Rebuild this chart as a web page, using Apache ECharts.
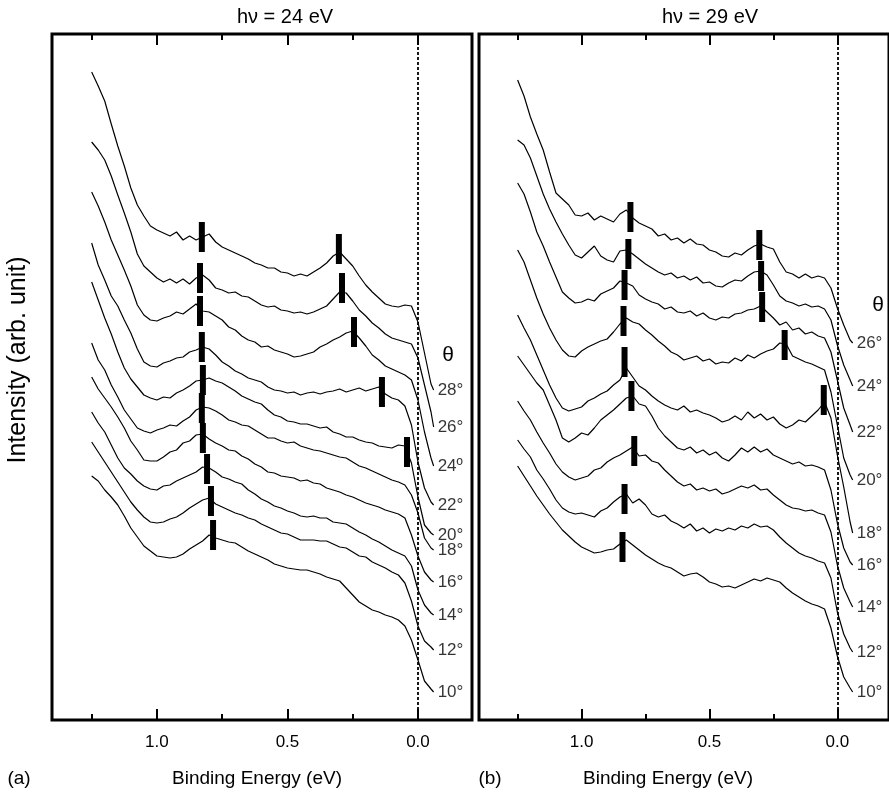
<!DOCTYPE html>
<html><head><meta charset="utf-8">
<script src="https://cdn.jsdelivr.net/npm/echarts@6/dist/echarts.min.js"></script>
<style>html,body{margin:0;padding:0;background:#fff}#c{width:889px;height:796px}</style>
</head><body><div id="c"></div>
<script>
// Binding energy sampling (eV)
const energies = [1.25,1.225,1.2,1.175,1.15,1.125,1.1,1.075,1.05,1.025,1.0,0.975,0.95,0.925,0.9,0.875,0.85,0.825,0.8,0.775,0.75,0.725,0.7,0.675,0.65,0.625,0.6,0.575,0.55,0.525,0.5,0.475,0.45,0.425,0.4,0.375,0.35,0.325,0.3,0.275,0.25,0.225,0.2,0.175,0.15,0.125,0.1,0.075,0.05,0.025,0,-0.025,-0.05,-0.06];
const tickValues = [0, 0.5, 1.0];
const minorTickValues = [0.25, 0.75, 1.25];
const anglesA = ['28°','26°','24º','22°','20°','18°','16°','14°','12°','10°'];
const anglesB = ['26°','24°','22°','20°','18°','16°','14°','12°','10°'];

// Panel (a) hv = 24 eV, intensity (arb. unit, offset stacked)
const a28 = [648,634,619,596,574,554,532,515,504,494,490,487,484,488,480,484,480,483,486,478,473,470,467,464,461,457,455,452,452,448,447,444,446,444,448,452,457,464,468,461,454,444,435,428,422,416,414,413,415,414,398,367,336,330];
const a26 = [578,570,560,544,525,507,488,466,454,448,442,438,441,437,441,436,442,445,440,432,430,427,428,424,423,419,415,413,414,410,409,407,408,406,408,411,414,421,428,427,419,410,404,397,392,386,382,380,378,376,362,335,308,293];
const a24 = [528,514,498,480,465,450,434,415,405,400,399,402,404,408,406,411,416,409,408,404,400,393,390,384,380,378,373,374,370,368,366,363,364,366,368,373,376,380,383,387,389,382,374,365,360,354,351,348,345,340,320,288,262,254];
const a22 = [477,455,440,424,414,400,387,371,358,354,353,357,359,362,363,368,370,373,371,365,358,354,349,346,342,340,338,333,330,329,327,328,325,327,328,326,328,329,331,328,330,332,329,331,333,326,322,320,314,295,258,232,218,215];
const a20 = [438,420,402,386,368,352,341,333,325,322,320,323,322,327,330,334,339,340,342,339,337,333,329,324,321,318,316,310,305,303,299,298,296,296,294,292,293,288,286,283,283,280,278,277,274,273,272,275,274,257,223,195,187,185];
const a18 = [377,360,350,335,323,310,301,292,289,287,290,292,295,294,299,303,310,313,312,309,305,300,298,295,294,290,286,282,282,279,277,278,274,272,270,269,267,265,263,262,258,254,252,249,246,243,240,238,235,225,207,182,172,170];
const a16 = [343,331,322,313,303,292,279,270,260,259,259,263,268,270,277,279,285,286,281,277,274,270,269,264,261,256,253,248,247,244,243,242,239,240,237,236,232,230,228,225,223,220,217,215,213,210,208,206,202,185,164,148,140,138];
const a14 = [308,297,288,275,262,252,246,239,234,231,230,234,235,239,242,245,248,253,252,248,243,241,238,236,230,226,221,218,214,212,209,207,204,203,204,202,202,198,197,196,192,188,185,181,178,174,170,167,164,154,130,115,107,105];
const a12 = [278,268,258,248,238,228,218,210,203,198,197,198,201,203,207,212,216,220,222,216,213,210,207,205,202,200,196,193,190,187,186,183,180,180,180,179,179,176,173,172,168,164,163,158,155,152,148,145,137,119,94,79,73,70];
const a10 = [244,239,230,223,215,204,192,183,174,169,164,163,162,163,166,171,175,179,185,182,180,178,177,173,169,166,163,160,156,154,152,151,150,150,148,146,143,141,139,132,125,118,114,110,108,105,103,100,94,80,60,39,31,28];

// Panel (b) hv = 29 eV
const b26 = [640,624,603,586,570,548,527,521,515,505,504,507,500,504,501,498,506,510,502,497,494,491,484,486,480,482,477,481,476,475,470,468,464,463,467,465,470,474,476,473,471,458,448,446,442,446,442,444,442,432,412,395,380,377];
const b24 = [580,575,562,544,526,511,498,486,475,465,462,468,474,464,460,458,469,470,466,461,456,452,448,445,447,442,444,440,443,437,438,434,433,437,440,439,444,448,449,445,435,424,419,417,414,416,413,414,411,400,375,355,340,334];
const b22 = [537,526,508,488,474,458,443,428,422,417,418,421,419,426,429,432,439,437,434,425,421,418,416,411,413,408,407,409,404,407,402,400,403,402,406,407,410,411,414,408,402,395,398,390,392,386,388,384,382,368,340,312,295,288];
const b20 = [470,458,440,422,406,392,380,370,364,363,369,373,376,379,381,388,396,402,398,396,390,385,379,374,368,365,360,362,364,359,361,356,358,357,362,359,365,362,366,369,371,377,376,364,361,358,356,353,350,328,295,262,245,240];
const b18 = [405,392,380,365,350,335,322,312,309,311,313,319,322,326,329,335,340,352,343,334,330,324,319,315,312,310,314,308,310,307,305,302,298,300,304,300,308,302,306,300,303,296,292,295,300,298,304,310,318,302,265,233,198,187];
const b16 = [364,355,346,337,330,315,300,282,278,282,287,285,292,300,305,310,316,322,324,316,314,304,292,284,278,272,270,273,267,270,265,268,262,259,265,272,268,273,268,271,265,262,259,256,258,254,255,253,250,230,197,172,158,155];
const b14 = [319,309,300,288,277,267,256,248,243,240,242,244,250,252,258,262,265,269,273,264,265,259,257,250,244,238,234,236,230,232,229,231,226,228,231,234,232,235,230,231,225,220,215,212,211,209,210,207,205,188,155,132,118,113];
const b12 = [280,271,263,250,241,231,220,212,208,206,207,205,203,209,212,218,223,226,217,221,215,206,203,205,199,196,192,196,189,192,187,191,189,192,190,194,192,196,193,194,190,183,177,172,167,164,162,159,157,142,108,86,72,68];
const b10 = [254,244,234,224,215,206,198,190,184,178,173,170,167,168,170,171,176,180,175,170,165,161,157,154,152,148,144,146,147,143,138,136,133,134,132,135,138,141,139,142,140,138,132,127,123,119,116,114,111,92,64,43,32,28];

// Peak markers [binding energy, intensity]
const markersA = [[0.828,483],[0.835,442],[0.835,409],[0.828,373],[0.824,340],[0.828,312],[0.824,282],[0.808,251],[0.793,219],[0.785,185],[0.303,471],[0.291,432],[0.245,388],[0.138,328],[0.042,268]];
const markersB = [[0.809,503],[0.817,466],[0.832,435],[0.836,399],[0.832,358],[0.805,324],[0.794,269],[0.832,221],[0.840,173],[0.305,475],[0.298,444],[0.294,413],[0.206,375],[0.053,320]];

const curvesA = [a28,a26,a24,a22,a20,a18,a16,a14,a12,a10];
const curvesB = [b26,b24,b22,b20,b18,b16,b14,b12,b10];

const FONT = '"Liberation Sans", Arial, Helvetica, sans-serif';

function makeXAxes(gridIndex, min, max) {
  const base = {type:'value', gridIndex, min, max, inverse:true, axisLine:{show:false}, splitLine:{show:false}};
  const major = {show:true, inside:true, length:11, lineStyle:{color:'#000', width:2}, customValues:tickValues};
  const minor = {show:true, inside:true, length:6, lineStyle:{color:'#000', width:2}, customValues:minorTickValues};
  return [
    Object.assign({}, base, {position:'bottom', axisTick:major,
      axisLabel:{show:true, customValues:tickValues, formatter:v=>Number(v).toFixed(1), fontSize:17, fontFamily:FONT, color:'#000', margin:14}}),
    Object.assign({}, base, {position:'bottom', axisTick:minor, axisLabel:{show:false}}),
    Object.assign({}, base, {position:'top', axisTick:major, axisLabel:{show:false}}),
    Object.assign({}, base, {position:'top', axisTick:minor, axisLabel:{show:false}})
  ];
}

function lineSeries(vals, xi, yi, withZero) {
  const s = {
    type:'line', xAxisIndex:xi, yAxisIndex:yi,
    data: energies.map((e,i)=>[e, vals[i]]),
    showSymbol:false, symbol:'none', silent:true, animation:false, z:3,
    lineStyle:{color:'#000', width:1.2}
  };
  if (withZero) {
    s.markLine = {silent:true, animation:false, symbol:['none','none'], label:{show:false},
      lineStyle:{color:'#000', type:[3,2], width:1.8}, data:[{xAxis:0}]};
  }
  return s;
}

function angleLabels(curves, angles, xi, yi) {
  const last = energies.length - 1;
  return {
    type:'scatter', xAxisIndex:xi, yAxisIndex:yi, silent:true, animation:false, z:6,
    symbol:'circle', symbolSize:0,
    data: curves.map((c,i)=>({value:[energies[last], c[last]], name:angles[i]})),
    label:{show:true, position:'right', distance:4, formatter:p=>p.name, color:'#000', fontSize:17, fontFamily:FONT}
  };
}

const series = [];
curvesA.forEach((c,i)=>series.push(lineSeries(c, 0, 0, i===0)));
curvesB.forEach((c,i)=>series.push(lineSeries(c, 4, 1, i===0)));
series.push(angleLabels(curvesA, anglesA, 0, 0));
series.push(angleLabels(curvesB, anglesB, 4, 1));
series.push({type:'scatter', xAxisIndex:0, yAxisIndex:0, data:markersA, symbol:'rect', symbolSize:[6,30], itemStyle:{color:'#000', opacity:1}, z:5, silent:true, animation:false});
series.push({type:'scatter', xAxisIndex:4, yAxisIndex:1, data:markersB, symbol:'rect', symbolSize:[6,30], itemStyle:{color:'#000', opacity:1}, z:5, silent:true, animation:false});

function txt(text, x, y, size, rot) {
  return {type:'text', x, y, rotation:rot||0, silent:true,
    style:{text, fill:'#000', font:size+'px '+FONT, textAlign:'center', textVerticalAlign:'middle'}};
}

const option = {
  animation:false,
  backgroundColor:'#fff',
  grid:[
    {left:52, top:34, width:420, height:686, show:true, borderColor:'#000', borderWidth:3, backgroundColor:'transparent'},
    {left:479, top:34, width:420, height:686, show:true, borderColor:'#000', borderWidth:3, backgroundColor:'transparent'}
  ],
  xAxis: makeXAxes(0, -0.207, 1.402).concat(makeXAxes(1, -0.202, 1.401)),
  yAxis: [
    {type:'value', gridIndex:0, min:0, max:686, show:false},
    {type:'value', gridIndex:1, min:0, max:686, show:false}
  ],
  series,
  graphic:[
    txt('hν = 24 eV', 285, 17, 20),
    txt('hν = 29 eV', 710, 17, 20),
    txt('Binding Energy (eV)', 257, 779, 19),
    txt('Binding Energy (eV)', 668, 779, 19),
    txt('(a)', 19, 779, 19),
    txt('(b)', 490, 779, 19),
    txt('Intensity (arb. unit)', 18, 360, 25, Math.PI/2),
    txt('θ', 448, 355, 21),
    txt('θ', 878, 305, 21)
  ]
};
const chart = echarts.init(document.getElementById('c'), null, {renderer:'canvas'});
chart.setOption(option);
</script></body></html>
